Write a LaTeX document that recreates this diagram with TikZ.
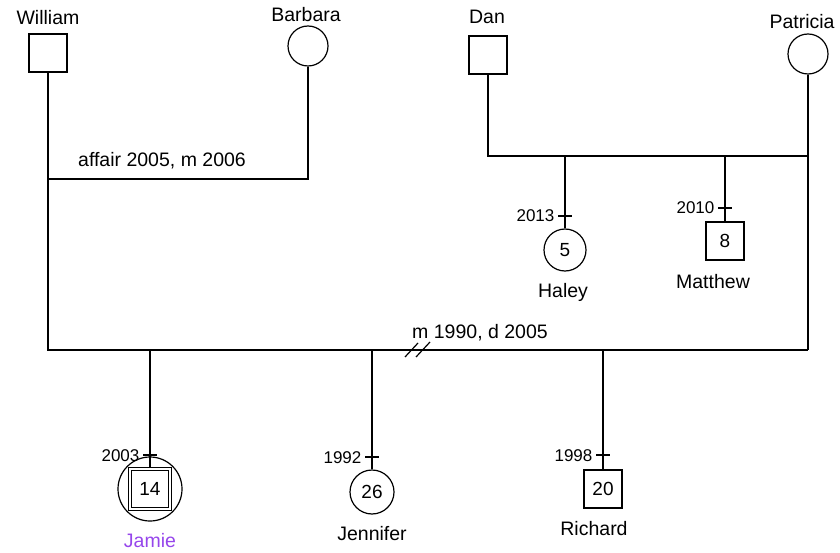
\documentclass[tikz,border=0pt]{standalone}
\usepackage{fontspec}
\setmainfont{Liberation Sans}
\usetikzlibrary{positioning}
\definecolor{jamiepurple}{RGB}{150,70,235}

\begin{document}
\begin{tikzpicture}[x=1pt,y=-1pt,line width=1.2pt,
  male/.style={draw,rectangle,minimum size=38pt,inner sep=0pt,font=\fontsize{19}{19}\selectfont},
  female/.style={draw,circle,minimum size=40pt,inner sep=0pt,font=\fontsize{19}{19}\selectfont},
  personname/.style={anchor=base,inner sep=0pt,font=\fontsize{19.5}{19.5}\selectfont},
  birthyear/.style={anchor=base east,inner sep=0pt,font=\fontsize{17}{17}\selectfont},
  relnote/.style={anchor=base,inner sep=0pt,font=\fontsize{19.5}{19.5}\selectfont}]
  \useasboundingbox (0,0) rectangle (840,553);

  % Eltern
  \node[male] (william) at (48,53) {};
  \node[female] (barbara) at (308,46) {};
  \node[male] (dan) at (488,55) {};
  \node[female] (patricia) at (808,54) {};
  \node[personname] (nwilliam) at (48,25) {William};
  \node[personname] (nbarbara) at (306,22) {Barbara};
  \node[personname] (ndan) at (487,24) {Dan};
  \node[personname] (npatricia) at (802,29) {Patricia};

  % Kinder
  \node[female,minimum size=42pt] (haley) at (565,250) {5};
  \node[male] (matthew) at (725,241) {8};
  \node[draw,circle,minimum size=64pt] (jamiering) at (150,489) {};
  \node[male,double,double distance=2.3pt,minimum size=40pt] (jamie) at (150,489) {14};
  \node[female,minimum size=44pt] (jennifer) at (372,492) {26};
  \node[male] (richard) at (603,489) {20};
  \node[personname] (nhaley) at (563,298) {Haley};
  \node[personname] (nmatthew) at (713,288) {Matthew};
  \node[personname,text=jamiepurple] (njamie) at (150,547) {Jamie};
  \node[personname] (njennifer) at (372,540) {Jennifer};
  \node[personname] (nrichard) at (594,535) {Richard};

  % Verbindungen
  \coordinate (wb) at (48,179);
  \coordinate (dp) at (808,156);
  \coordinate (wm) at (48,350);
  \coordinate (pm) at (808,350);
  \draw (barbara) |- (wb);
  \draw (dan) |- (dp);
  \draw (william) -- (wm) -- (pm);
  \draw (patricia) -- (pm);
  \node[relnote] (affair) at (162,167) {affair 2005, m 2006};
  \node[relnote] (marriage) at (480,338) {m 1990, d 2005};
  \draw (405,357) -- (418,343);
  \draw (416,357) -- (430,342);

  \draw (haley |- dp) -- (haley);
  \draw (matthew |- dp) -- (matthew);
  \draw (jamie |- wm) -- (jamie);
  \draw (jennifer |- wm) -- (jennifer);
  \draw (richard |- wm) -- (richard);

  % Geburtsjahre
  \foreach \x/\y/\yr in {565/216/2013,725/208/2010,150/455/2003,372/457/1992,603/455/1998} {
    \draw (\x-7,\y) -- (\x+7,\y);
    \node[birthyear] at (\x-10,\y+6) {\yr};
  }
\end{tikzpicture}
\end{document}
